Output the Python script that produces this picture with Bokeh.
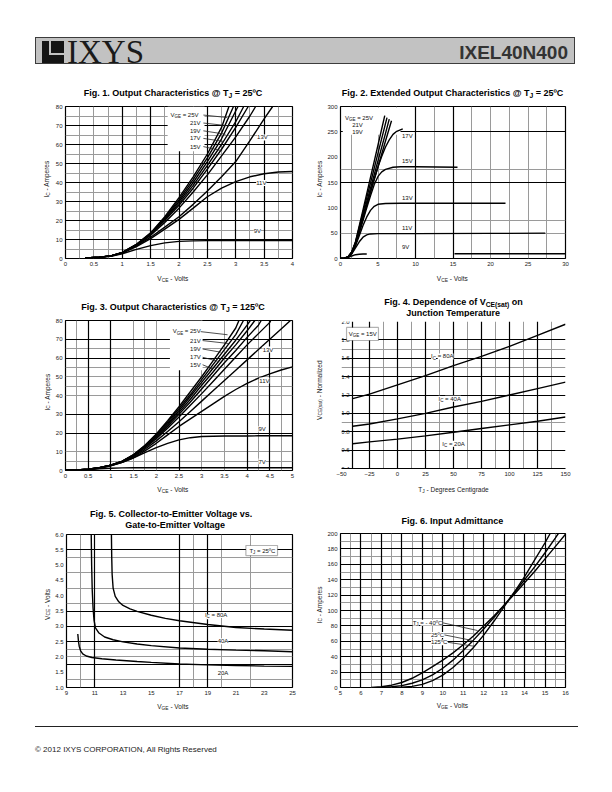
import math
from bokeh.plotting import figure
from bokeh.models import (Range1d, Label, Grid, FixedTicker, NumeralTickFormatter,
                          BoxAnnotation, Div)
from bokeh.layouts import column, row
from bokeh.embed import file_html
from bokeh.resources import INLINE

# ======================= DATA =======================
# ---- Fig. 1  Output characteristics @ TJ = 25C  (VCE [V], IC [A]) ----
f1_25v_x = [0.35, 0.6, 0.8, 1.0, 1.25, 1.5, 1.75, 2.0, 2.25, 2.5, 2.75, 2.88]
f1_25v_y = [0.3, 0.7, 1.4, 3.2, 7.5, 13.5, 22.0, 32.0, 43.0, 55.0, 69.0, 80.0]
f1_23v_x = [0.35, 0.6, 0.8, 1.0, 1.25, 1.5, 1.75, 2.0, 2.25, 2.5, 2.75, 2.96]
f1_23v_y = [0.3, 0.7, 1.4, 3.2, 7.4, 13.2, 21.5, 31.0, 41.5, 53.0, 66.0, 80.0]
f1_21v_x = [0.35, 0.6, 0.8, 1.0, 1.25, 1.5, 1.75, 2.0, 2.25, 2.5, 2.75, 3.04]
f1_21v_y = [0.3, 0.7, 1.4, 3.1, 7.3, 13.0, 21.0, 30.0, 40.0, 51.0, 63.0, 80.0]
f1_19v_x = [0.35, 0.6, 0.8, 1.0, 1.25, 1.5, 1.75, 2.0, 2.25, 2.5, 2.75, 3.0, 3.14]
f1_19v_y = [0.3, 0.7, 1.4, 3.1, 7.2, 12.8, 20.5, 29.0, 38.5, 49.0, 60.0, 72.0, 80.0]
f1_17v_x = [0.35, 0.6, 0.8, 1.0, 1.25, 1.5, 1.75, 2.0, 2.25, 2.5, 2.75, 3.0, 3.22]
f1_17v_y = [0.3, 0.7, 1.4, 3.0, 7.1, 12.5, 20.0, 28.0, 37.0, 47.0, 57.5, 69.0, 80.0]
f1_15v_x = [0.35, 0.6, 0.8, 1.0, 1.25, 1.5, 1.75, 2.0, 2.25, 2.5, 2.75, 3.0, 3.25, 3.35]
f1_15v_y = [0.3, 0.7, 1.4, 3.0, 7.0, 12.2, 19.0, 26.5, 35.0, 44.0, 54.0, 64.0, 75.0, 80.0]
f1_13v_x = [0.35, 0.6, 0.8, 1.0, 1.25, 1.5, 1.75, 2.0, 2.25, 2.5, 2.75, 3.0, 3.25, 3.5, 3.65]
f1_13v_y = [0.3, 0.7, 1.3, 2.9, 6.6, 11.2, 16.5, 22.0, 28.5, 35.5, 43.0, 51.0, 62.0, 73.5, 80.0]
f1_11v_x = [0.35, 0.6, 0.8, 1.0, 1.25, 1.5, 1.75, 2.0, 2.25, 2.5, 2.75, 3.0, 3.25, 3.5, 3.75, 4.0]
f1_11v_y = [0.3, 0.7, 1.3, 2.8, 6.3, 10.5, 15.5, 20.6, 26.5, 32.5, 37.0, 40.5, 43.0, 44.6, 45.5, 45.8]
f1_9v_x = [0.35, 0.6, 0.8, 1.0, 1.25, 1.5, 1.75, 2.0, 2.25, 2.5, 3.0, 3.5, 4.0]
f1_9v_y = [0.3, 0.6, 1.1, 2.5, 4.8, 6.8, 8.2, 9.0, 9.3, 9.4, 9.4, 9.4, 9.4]
f1_xticks = [0, 0.5, 1, 1.5, 2, 2.5, 3, 3.5, 4]
f1_yticks = [0, 10, 20, 30, 40, 50, 60, 70, 80]
f1_grid_x_major = [1, 1.5, 2, 2.5, 3, 3.5]
f1_grid_x_minor = [0.25, 0.5, 0.75, 1.25, 1.75, 2.25, 2.75, 3.25, 3.75]
f1_grid_y_major = [10, 20, 30, 40, 50, 60, 70]
f1_grid_y_minor = [5, 15, 25, 35, 45, 55, 65, 75]
f1_stack_labels = ["21V", "19V", "17V", "15V"]
f1_stack_y = [71.3, 67.2, 63.2, 58.9]
f1_vge_label_y = 75.5
f1_leader_x1 = [2.85, 2.88, 2.82, 2.79, 2.76]
f1_leader_y1 = [74.2, 69.8, 65.4, 61.6, 56.7]
f1_side_labels = ["13V", "11V", "9V"]
f1_side_x = [3.47, 3.45, 3.38]
f1_side_y = [63.7, 39.8, 14.6]

# ---- Fig. 2  Extended output characteristics @ 25C ----
f2_25v_x = [0, 0.5, 1.0, 1.5, 2.0, 3.0, 4.0, 5.0, 5.9]
f2_25v_y = [0, 0.5, 3, 13, 33, 96, 160, 224, 282]
f2_23v_x = [0, 0.5, 1.0, 1.5, 2.0, 3.0, 4.0, 5.0, 6.2]
f2_23v_y = [0, 0.5, 3, 13, 32, 91, 149, 208, 278]
f2_21v_x = [0, 0.5, 1.0, 1.5, 2.0, 3.0, 4.0, 5.0, 6.0, 6.5]
f2_21v_y = [0, 0.5, 3, 12.5, 31, 85, 139, 193, 247, 275]
f2_19v_x = [0, 0.5, 1.0, 1.5, 2.0, 3.0, 4.0, 5.0, 6.0, 6.8]
f2_19v_y = [0, 0.5, 3, 12, 30, 80, 131, 181, 232, 272]
f2_17v_x = [0, 0.5, 1, 1.5, 2, 2.5, 3, 3.5, 4, 4.5, 5, 5.5, 6, 6.5, 7, 7.5, 8.3]
f2_17v_y = [0, 0.5, 2.5, 11, 28, 52, 79, 106, 132, 157, 181, 202, 220, 234, 245, 251, 256]
f2_15v_x = [0, 0.5, 1, 1.5, 2, 2.5, 3, 3.5, 4, 4.5, 5, 5.5, 6, 7, 8, 10, 15.6]
f2_15v_y = [0, 0.5, 2.5, 10.5, 27, 50, 75, 100, 124, 146, 162, 171, 176, 180, 181, 181, 180]
f2_13v_x = [0, 0.5, 1, 1.5, 2, 2.5, 3, 3.5, 4, 4.5, 5, 6, 8, 22]
f2_13v_y = [0, 0.5, 2.5, 10, 25, 45, 65, 82, 95, 103, 107, 108.5, 109, 109]
f2_11v_x = [0, 0.5, 1, 1.5, 2, 2.5, 3, 3.5, 4, 5, 10, 20, 27.3]
f2_11v_y = [0, 0.5, 2, 9, 21, 33, 42, 46.5, 48.5, 49, 49, 49.5, 50]
# the 9V trace is drawn in two visible pieces in the original (gap between them)
f2_9v_x = [0, 0.5, 1, 1.5, 2, 2.5, 3, 3.5, float("nan"), 15.2, 30]
f2_9v_y = [0, 0.5, 2, 5, 7.5, 8.5, 9, 9, float("nan"), 9.5, 9.5]
f2_xticks = [0, 5, 10, 15, 20, 25, 30]
f2_yticks = [0, 50, 100, 150, 200, 250, 300]
f2_grid_x_major = [10, 15]
f2_grid_x_minor = [1.5, 5, 7.5, 12.5, 17.5, 20, 22.5, 25, 27.5]
f2_grid_y_major = [150, 250]
f2_grid_y_minor = [50, 75, 175]
f2_right_labels = ["17V", "15V", "13V", "11V", "9V"]
f2_right_y = [242, 193, 120, 60, 22]
f2_left_labels = ["21V", "19V"]
f2_left_y = [263, 249]

# ---- Fig. 3  Output characteristics @ TJ = 125C ----
f3_x = [0, 0.25, 0.5, 0.75, 1.0, 1.25, 1.5, 1.75, 2.0, 2.25, 2.5, 2.75, 3.0, 3.25,
        3.5, 3.75, 4.0, 4.25, 4.5, 4.75, 5.0]
f3_25v_x = [0, 0.25, 0.5, 0.75, 1.0, 1.25, 1.5, 1.75, 2.0, 2.25, 2.5, 2.75, 3.0, 3.25, 3.5, 3.75, 3.82]
f3_25v_y = [0.2, 0.3, 0.7, 1.5, 2.9, 5.0, 8.5, 13.5, 19.5, 26.5, 34.0, 42.0, 50.0, 58.5, 67.0, 76.0, 80.0]
f3_23v_x = [0, 0.25, 0.5, 0.75, 1.0, 1.25, 1.5, 1.75, 2.0, 2.25, 2.5, 2.75, 3.0, 3.25, 3.5, 3.75, 3.92]
f3_23v_y = [0.2, 0.3, 0.7, 1.5, 2.9, 5.0, 8.4, 13.2, 19.0, 25.8, 33.0, 40.5, 48.5, 56.5, 64.5, 72.5, 80.0]
f3_21v_x = [0, 0.25, 0.5, 0.75, 1.0, 1.25, 1.5, 1.75, 2.0, 2.25, 2.5, 2.75, 3.0, 3.25, 3.5, 3.75, 4.0, 4.07]
f3_21v_y = [0.2, 0.3, 0.7, 1.5, 2.9, 4.9, 8.3, 13.0, 18.6, 25.0, 32.0, 39.5, 47.0, 54.5, 62.0, 69.5, 77.5, 80.0]
f3_19v_x = [0, 0.25, 0.5, 0.75, 1.0, 1.25, 1.5, 1.75, 2.0, 2.25, 2.5, 2.75, 3.0, 3.25, 3.5, 3.75, 4.0, 4.17]
f3_19v_y = [0.2, 0.3, 0.7, 1.5, 2.9, 4.9, 8.2, 12.7, 18.2, 24.4, 31.0, 38.0, 45.5, 52.5, 60.0, 67.0, 74.5, 80.0]
f3_17v_x = [0, 0.25, 0.5, 0.75, 1.0, 1.25, 1.5, 1.75, 2.0, 2.25, 2.5, 2.75, 3.0, 3.25, 3.5, 3.75, 4.0, 4.25, 4.31]
f3_17v_y = [0.2, 0.3, 0.7, 1.5, 2.8, 4.8, 8.0, 12.4, 17.7, 23.6, 30.0, 36.5, 43.5, 50.5, 57.5, 64.0, 71.0, 77.5, 80.0]
f3_15v_x = [0, 0.25, 0.5, 0.75, 1.0, 1.25, 1.5, 1.75, 2.0, 2.25, 2.5, 2.75, 3.0, 3.25, 3.5, 3.75, 4.0, 4.25, 4.5, 4.52]
f3_15v_y = [0.2, 0.3, 0.7, 1.5, 2.8, 4.7, 7.8, 12.0, 17.0, 22.6, 28.5, 34.8, 41.0, 47.5, 54.0, 60.5, 67.0, 73.0, 79.0, 80.0]
f3_13v_y = [0.2, 0.3, 0.7, 1.4, 2.7, 4.5, 7.4, 11.3, 15.8, 20.8, 26.0, 31.5, 37.0, 42.5,
            48.0, 53.5, 59.0, 64.5, 70.0, 75.5, 81.0]
f3_11v_y = [0.2, 0.3, 0.6, 1.3, 2.6, 4.3, 6.8, 10.5, 14.5, 19.0, 23.5, 27.5, 31.5, 35.5,
            39.5, 43.2, 46.5, 49.3, 51.5, 53.6, 55.3]
f3_9v_y = [0.2, 0.3, 0.5, 1.2, 2.5, 4.3, 6.8, 9.5, 12.2, 14.5, 16.3, 17.5, 18.1, 18.3,
           18.4, 18.4, 18.4, 18.5, 18.5, 18.5, 18.5]
f3_7v_y = [0.2, 0.3, 0.5, 0.9, 1.2, 1.4, 1.5, 1.5, 1.5, 1.5, 1.5, 1.5, 1.5, 1.5,
           1.5, 1.5, 1.5, 1.5, 1.5, 1.5, 1.5]
f3_xticks = [0, 0.5, 1, 1.5, 2, 2.5, 3, 3.5, 4, 4.5, 5]
f3_yticks = [0, 10, 20, 30, 40, 50, 60, 70, 80]
f3_grid_x_major = [0.5, 1, 2.5, 4, 4.5]
f3_grid_x_minor = [0.25, 1.5, 1.75, 2, 3, 3.5, 4.25, 4.75]
f3_grid_y_major = [20, 30, 60, 70]
f3_grid_y_minor = [5, 10, 40, 45, 50, 55, 65]
f3_stack_labels = ["21V", "19V", "17V", "15V"]
f3_stack_y = [69.3, 64.8, 60.4, 56.4]
f3_vge_label_y = 74.2
f3_leader_x1 = [3.57, 3.6, 3.42, 3.35, 3.24]
f3_leader_y1 = [72.4, 67.7, 63.1, 58.3, 54.2]
f3_side_labels = ["13V", "11V", "9V", "7V"]
f3_side_x = [4.46, 4.38, 4.33, 4.33]
f3_side_y = [64.5, 48.0, 22.1, 4.8]

# ---- Fig. 4  VCE(sat) vs junction temperature ----
f4_tj = [-40, -25, 0, 25, 50, 75, 100, 125, 150]
f4_80a = [1.16, 1.21, 1.31, 1.41, 1.52, 1.62, 1.73, 1.85, 1.97]
f4_40a = [0.86, 0.885, 0.94, 1.00, 1.07, 1.13, 1.20, 1.27, 1.34]
f4_20a = [0.67, 0.69, 0.72, 0.755, 0.795, 0.835, 0.875, 0.915, 0.96]
f4_xticks = [-50, -25, 0, 25, 50, 75, 100, 125, 150]
f4_yticks = [0.4, 0.6, 0.8, 1.0, 1.2, 1.4, 1.6, 1.8, 2.0]
f4_grid_x_major = [-25, 0, 25, 50, 75, 100, 125, 150]
f4_grid_x_minor = [-12.5, 12.5, 37.5, 62.5, 87.5, 112.5, 137.5]
f4_grid_y_major = [0.6, 0.8, 1.0, 1.2, 1.4, 1.6, 1.8, 2.0]
f4_grid_y_minor = [0.9, 1.5, 1.7]
f4_label_names = ["80A", "40A", "20A"]
f4_label_x = [30, 36.6, 40]
f4_label_y = [1.62, 1.16, 0.67]

# ---- Fig. 5  VCE vs VGE ----
f5_80a_x = [12.18, 12.2, 12.23, 12.3, 12.45, 12.7, 13.0, 13.5, 14.0, 15.0, 16.0, 17.0, 19.0, 21.0, 23.0, 25.0]
f5_80a_y = [6.0, 5.3, 4.7, 4.25, 3.98, 3.8, 3.68, 3.57, 3.49, 3.36, 3.26, 3.18, 3.06, 2.96, 2.91, 2.87]
f5_40a_x = [10.75, 10.78, 10.82, 10.88, 10.95, 11.05, 11.3, 11.7, 12.3, 13.0, 14.0, 15.0, 17.0, 19.0, 21.0, 23.0, 25.0]
f5_40a_y = [6.0, 5.0, 4.2, 3.6, 3.2, 2.95, 2.78, 2.65, 2.56, 2.49, 2.42, 2.37, 2.29, 2.25, 2.22, 2.2, 2.17]
f5_20a_x = [9.8, 9.85, 9.9, 10.0, 10.15, 10.4, 10.8, 11.5, 12.5, 14.0, 15.0, 17.0, 19.0, 21.0, 23.0, 25.0]
f5_20a_y = [2.75, 2.5, 2.35, 2.2, 2.1, 2.03, 1.98, 1.94, 1.9, 1.85, 1.82, 1.77, 1.74, 1.72, 1.7, 1.69]
f5_xticks = [9, 11, 13, 15, 17, 19, 21, 23, 25]
f5_yticks = [1.0, 1.5, 2.0, 2.5, 3.0, 3.5, 4.0, 4.5, 5.0, 5.5, 6.0]
f5_grid_x_major = [11, 17, 19]
f5_grid_x_minor = [10, 18, 20, 22]
f5_grid_y_major = [1.75, 2.5, 3.0, 3.5, 5.5]
f5_grid_y_minor = [1.25, 2.0, 2.25, 3.75, 4.25, 4.75, 5.25]
f5_label_names = ["80A", "40A", "20A"]
f5_label_x = [18.8, 19.7, 19.7]
f5_label_y = [3.37, 2.51, 1.49]

# ---- Fig. 6  Input admittance ----
f6_m40_x = [6.5, 7, 7.5, 8, 8.5, 9, 9.5, 10, 10.5, 11, 11.5, 12, 12.5, 13, 13.5, 14, 14.5, 15, 15.5, 16]
f6_m40_y = [0, 1, 3, 6.5, 12, 19, 27, 35.5, 45, 55.5, 67, 80, 93, 107, 121, 136, 151, 167, 183, 199]
f6_25_x = [7, 7.5, 8, 8.5, 9, 9.5, 10, 10.5, 11, 11.5, 12, 12.5, 13, 13.5, 14, 14.5, 15, 15.5, 15.65]
f6_25_y = [0, 1, 2.5, 5.5, 10, 16.5, 25, 35.5, 48, 61.5, 76, 91, 107, 123, 140, 157, 175, 194, 200]
f6_125_x = [7.5, 8, 8.5, 9, 9.5, 10, 10.5, 11, 11.5, 12, 12.5, 13, 13.5, 14, 14.5, 15, 15.25]
f6_125_y = [0, 0.5, 1.5, 4, 9, 16, 26, 38, 52, 68, 86, 105, 124, 144, 166, 188, 200]
f6_xticks = [5, 6, 7, 8, 9, 10, 11, 12, 13, 14, 15, 16]
f6_yticks = [0, 20, 40, 60, 80, 100, 120, 140, 160, 180, 200]
f6_grid_x_major = [6, 7, 8, 9, 10, 11, 12, 13, 14, 15]
f6_grid_x_minor = [5.5, 6.5, 7.5, 8.5, 9.5, 10.5, 11.5, 12.5, 13.5, 14.5, 15.5]
f6_grid_y_major = [20, 40, 60, 80, 100, 120, 140, 160, 180]
f6_grid_y_minor = [10, 30, 50, 70, 90, 110, 130, 150, 170, 190]
f6_label_x0 = [10.0, 10.08, 10.25]
f6_label_y0 = [84, 68.3, 58.7]
f6_label_x1 = [11.7, 11.45, 11.55]
f6_label_y1 = [74, 61, 53.5]

# ======================= HELPERS =======================
FONT = "Liberation Sans"
REG = {' ': 278, '(': 333, ')': 333, ',': 278, '-': 333, '.': 278, '=': 584, '@': 1015,
       'º': 365, '©': 737,
       'A': 667, 'B': 667, 'C': 722, 'D': 722, 'E': 667, 'F': 611, 'G': 778, 'H': 722,
       'I': 278, 'J': 500, 'K': 667, 'L': 556, 'M': 833, 'N': 722, 'O': 778, 'P': 667,
       'Q': 778, 'R': 722, 'S': 667, 'T': 611, 'U': 722, 'V': 667, 'W': 944, 'X': 667,
       'Y': 667, 'Z': 611, 'a': 556, 'b': 556, 'c': 500, 'd': 556, 'e': 556, 'f': 278,
       'g': 556, 'h': 556, 'i': 222, 'j': 222, 'k': 500, 'l': 222, 'm': 833, 'n': 556,
       'o': 556, 'p': 556, 'q': 556, 'r': 333, 's': 500, 't': 278, 'u': 556, 'v': 500,
       'w': 722, 'x': 500, 'y': 500, 'z': 500}
BOLD = {' ': 278, '(': 333, ')': 333, ',': 278, '-': 333, '.': 278, '=': 584, '@': 975,
        'º': 365,
        'A': 722, 'B': 722, 'C': 722, 'D': 722, 'E': 667, 'F': 611, 'G': 778, 'H': 722,
        'I': 278, 'J': 556, 'K': 722, 'L': 611, 'M': 833, 'N': 722, 'O': 778, 'P': 667,
        'Q': 778, 'R': 722, 'S': 667, 'T': 611, 'U': 722, 'V': 667, 'W': 944, 'X': 667,
        'Y': 667, 'Z': 611, 'a': 556, 'b': 611, 'c': 556, 'd': 611, 'e': 556, 'f': 333,
        'g': 611, 'h': 611, 'i': 278, 'j': 278, 'k': 556, 'l': 278, 'm': 889, 'n': 611,
        'o': 611, 'p': 611, 'q': 611, 'r': 389, 's': 556, 't': 333, 'u': 611, 'v': 556,
        'w': 778, 'x': 556, 'y': 556, 'z': 500}


def tw(s, size, bold=False):
    tbl = BOLD if bold else REG
    return sum(tbl.get(c, 556) for c in s) * size / 1000.0


def rich(p, x, y, parts, size, align="left", bold=False, angle=0.0, xo=0.0, yo=0.0,
         bg=None, color="#111111", sub_scale=0.75):
    sizes = [size * sub_scale if s else size for _, s in parts]
    widths = [tw(t, fs, bold) for (t, _), fs in zip(parts, sizes)]
    total = sum(widths)
    pos = {"left": 0.0, "center": -total / 2.0, "right": -total}[align]
    for (t, s), fs, w in zip(parts, sizes, widths):
        stripped = t.lstrip(" ")
        lead = tw(t[:len(t) - len(stripped)], fs, bold)
        drop = 0.3 * size if s else 0.0
        if angle == 0:
            ox, oy = xo + pos + lead, yo - drop
        else:
            ox, oy = xo + drop, yo + pos + lead
        lab = Label(x=x, y=y, text=stripped, x_offset=ox, y_offset=oy, angle=angle,
                    text_font=FONT, text_font_size=f"{fs:.2f}px",
                    text_font_style="bold" if bold else "normal",
                    text_color=color, text_align="left", text_baseline="middle")
        if bg:
            lab.background_fill_color = bg
        p.add_layout(lab)
        pos += w


def simple(p, x, y, text, size=6.0, align="left", bg="white"):
    lab = Label(x=x, y=y, text=text, text_font=FONT, text_font_size=f"{size}px",
                text_color="#111111", text_align=align, text_baseline="middle")
    if bg:
        lab.background_fill_color = bg
    p.add_layout(lab)


def blank(w, h):
    p = figure(width=w, height=h, x_range=Range1d(0, w), y_range=Range1d(0, h),
               output_backend="svg", toolbar_location=None, min_border=0,
               x_axis_type=None, y_axis_type=None,
               background_fill_color="white", border_fill_color="white")
    p.outline_line_color = None
    p.grid.visible = False
    return p


class Cell:
    """Geometry of one chart cell in page pixels (page origin at the top-left)."""
    def __init__(self, x0, y0, w, h, ylab_w, title_h, xlab_h, frame):
        self.x0, self.y0, self.w, self.h = x0, y0, w, h
        self.ylab_w, self.title_h, self.xlab_h = ylab_w, title_h, xlab_h
        fx0, fx1, fy0, fy1 = frame
        self.cw = w - ylab_w
        self.ch = h - title_h - xlab_h
        self.bl = fx0 - (x0 + ylab_w)
        self.br = (x0 + w) - fx1
        self.bt = fy0 - (y0 + title_h)
        self.bb = (y0 + h - xlab_h) - fy1


def make_fig(c, xr, yr, xticks, yticks, xfmt=None, yfmt=None):
    p = figure(width=c.cw, height=c.ch, x_range=Range1d(*xr), y_range=Range1d(*yr),
               output_backend="svg", toolbar_location=None,
               min_border_left=c.bl, min_border_right=c.br,
               min_border_top=c.bt, min_border_bottom=c.bb,
               background_fill_color="white", border_fill_color="white")
    p.xgrid.visible = False
    p.ygrid.visible = False
    p.outline_line_color = "black"
    p.outline_line_width = 1.2
    for ax, ticks, fmt in ((p.xaxis[0], xticks, xfmt), (p.yaxis[0], yticks, yfmt)):
        ax.ticker = FixedTicker(ticks=ticks, minor_ticks=[])
        ax.minor_tick_line_color = None
        ax.major_tick_in = 0
        ax.major_tick_out = 0
        ax.axis_line_color = None
        ax.major_label_text_font = FONT
        ax.major_label_text_font_size = "6px"
        ax.major_label_text_color = "#222222"
        ax.major_label_standoff = 3
        if fmt is not None:
            ax.formatter = fmt
    return p


def grids(p, xmin, xmaj, ymin, ymaj):
    for dim, ticks, col, wd in ((0, xmin, "#9a9a9a", 1.0), (1, ymin, "#9a9a9a", 1.0),
                                (0, xmaj, "#000000", 1.2), (1, ymaj, "#000000", 1.2)):
        p.add_layout(Grid(dimension=dim, ticker=FixedTicker(ticks=ticks, minor_ticks=[]),
                          grid_line_color=col, grid_line_width=wd))


def mask(p, l, r, b, t):
    p.add_layout(BoxAnnotation(left=l, right=r, bottom=b, top=t, fill_color="white",
                               fill_alpha=1.0, line_color=None, level="underlay"))


def curve(p, x, y):
    p.line(x, y, line_color="black", line_width=1.4)


def assemble(c, chart, title_lines, xlab_parts, xlab_pos, ylab_parts, ylab_pos):
    """Text panels around a chart; the positions given are page coordinates."""
    tf = blank(c.w, c.title_h)
    for parts, (px, py) in title_lines:
        rich(tf, px - c.x0, c.title_h - (py - c.y0), parts, 9.0,
             align="center", bold=True, color="#000000")
    xf = blank(c.w, c.xlab_h)
    oy = c.y0 + c.h - c.xlab_h
    rich(xf, xlab_pos[0] - c.x0, c.xlab_h - (xlab_pos[1] - oy), xlab_parts, 6.5,
         align="center", color="#1a1a1a")
    yf = blank(c.ylab_w, c.ch)
    my = c.y0 + c.title_h
    rich(yf, ylab_pos[0] - c.x0, c.ch - (ylab_pos[1] - my), ylab_parts, 6.5,
         align="center", angle=math.pi / 2, color="#1a1a1a")
    return column(tf, row(yf, chart), xf)


VCE = [("V", 0), ("CE", 1), (" - Volts", 0)]
VGE = [("V", 0), ("GE", 1), (" - Volts", 0)]
ICA = [("I", 0), ("C", 1), (" - Amperes", 0)]

# ======================= FIG 1 =======================
c1 = Cell(0, 80, 308, 208, 52, 20, 16, (65, 292, 106, 258))
p1 = make_fig(c1, (0, 4), (0, 80), f1_xticks, f1_yticks, xfmt=NumeralTickFormatter(format="0.[0]"))
grids(p1, f1_grid_x_minor, f1_grid_x_major, f1_grid_y_minor, f1_grid_y_major)
mask(p1, 1.80, 2.45, 56.5, 80)
for xs, ys in ((f1_25v_x, f1_25v_y), (f1_23v_x, f1_23v_y), (f1_21v_x, f1_21v_y),
               (f1_19v_x, f1_19v_y), (f1_17v_x, f1_17v_y), (f1_15v_x, f1_15v_y),
               (f1_13v_x, f1_13v_y), (f1_11v_x, f1_11v_y), (f1_9v_x, f1_9v_y)):
    curve(p1, xs, ys)
p1.segment([2.43] * 5, [f1_vge_label_y] + f1_stack_y, f1_leader_x1, f1_leader_y1,
           line_color="#222222", line_width=0.8)
rich(p1, 1.85, f1_vge_label_y, [("V", 0), ("GE", 1), (" = 25V", 0)], 6.0, bg="white")
for t, yy in zip(f1_stack_labels, f1_stack_y):
    simple(p1, 2.38, yy, t, align="right")
for t, xx, yy in zip(f1_side_labels, f1_side_x, f1_side_y):
    simple(p1, xx, yy, t, align="center")
cell1 = assemble(c1, p1, [([("Fig. 1. Output Characteristics @ T", 0), ("J", 1), (" = 25ºC", 0)], (172.5, 92))],
                 VCE, (172.5, 278), ICA, (46, 182))

# ======================= FIG 2 =======================
c2 = Cell(308, 80, 296, 208, 16, 20, 16, (339, 565, 106, 258))
p2 = make_fig(c2, (0, 30), (0, 300), f2_xticks, f2_yticks)
grids(p2, f2_grid_x_minor, f2_grid_x_major, f2_grid_y_minor, f2_grid_y_major)
mask(p2, 0.3, 8.0, 244, 298)
for xs, ys in ((f2_25v_x, f2_25v_y), (f2_23v_x, f2_23v_y), (f2_21v_x, f2_21v_y),
               (f2_19v_x, f2_19v_y), (f2_17v_x, f2_17v_y), (f2_15v_x, f2_15v_y),
               (f2_13v_x, f2_13v_y), (f2_11v_x, f2_11v_y), (f2_9v_x, f2_9v_y)):
    curve(p2, xs, ys)
rich(p2, 0.6, 277, [("V", 0), ("GE", 1), (" = 25V", 0)], 6.0, bg="white")
for t, yy in zip(f2_left_labels, f2_left_y):
    simple(p2, 1.55, yy, t, align="left", bg=None)
for t, yy in zip(f2_right_labels, f2_right_y):
    simple(p2, 8.2, yy, t, align="left")
cell2 = assemble(c2, p2, [([("Fig. 2. Extended Output Characteristics @ T", 0), ("J", 1), (" = 25ºC", 0)], (452, 92))],
                 VCE, (452, 278), ICA, (318.5, 182))

# ======================= FIG 3 =======================
c3 = Cell(0, 288, 308, 212, 52, 26, 16, (64, 292, 320, 470))
p3 = make_fig(c3, (0, 5), (0, 80), f3_xticks, f3_yticks, xfmt=NumeralTickFormatter(format="0.[0]"))
grids(p3, f3_grid_x_minor, f3_grid_x_major, f3_grid_y_minor, f3_grid_y_major)
mask(p3, 2.3, 3.02, 53.5, 80)
for xs, ys in ((f3_25v_x, f3_25v_y), (f3_23v_x, f3_23v_y), (f3_21v_x, f3_21v_y),
               (f3_19v_x, f3_19v_y), (f3_17v_x, f3_17v_y), (f3_15v_x, f3_15v_y),
               (f3_x, f3_13v_y), (f3_x, f3_11v_y), (f3_x, f3_9v_y), (f3_x, f3_7v_y)):
    curve(p3, xs, ys)
p3.segment([2.93] + [3.02] * 4, [f3_vge_label_y] + f3_stack_y, f3_leader_x1, f3_leader_y1,
           line_color="#222222", line_width=0.8)
rich(p3, 2.36, f3_vge_label_y, [("V", 0), ("GE", 1), (" = 25V", 0)], 6.0, bg="white")
for t, yy in zip(f3_stack_labels, f3_stack_y):
    simple(p3, 2.98, yy, t, align="right")
for t, xx, yy in zip(f3_side_labels, f3_side_x, f3_side_y):
    simple(p3, xx, yy, t, align="center")
cell3 = assemble(c3, p3, [([("Fig. 3. Output Characteristics @ T", 0), ("J", 1), (" = 125ºC", 0)], (172.5, 306))],
                 VCE, (172.5, 489), ICA, (46.5, 395))

# ======================= FIG 4 =======================
c4 = Cell(308, 288, 296, 212, 16, 29, 16, (341, 565, 321, 468))
p4 = make_fig(c4, (-50, 150), (0.4, 2.0), f4_xticks, f4_yticks, yfmt=NumeralTickFormatter(format="0.0"))
p4.outline_line_color = None
p4.yaxis[0].fixed_location = -40
p4.yaxis[0].axis_line_color = "black"
p4.yaxis[0].axis_line_width = 1.2
p4.xaxis[0].axis_line_color = "black"
p4.xaxis[0].axis_line_width = 1.2
grids(p4, f4_grid_x_minor, f4_grid_x_major, f4_grid_y_minor, f4_grid_y_major)
for ys in (f4_80a, f4_40a, f4_20a):
    curve(p4, f4_tj, ys)
for nm, xx, yy in zip(f4_label_names, f4_label_x, f4_label_y):
    rich(p4, xx, yy, [("I", 0), ("C", 1), (" = " + nm, 0)], 6.0, bg="white")
p4.add_layout(BoxAnnotation(left=-45.5, right=-17, bottom=1.793, top=1.935, fill_color="white",
                            fill_alpha=1.0, line_color="black", line_width=1.2))
rich(p4, -43.5, 1.864, [("V", 0), ("GE", 1), (" = 15V", 0)], 6.0)
cell4 = assemble(c4, p4, [([("Fig. 4. Dependence of V", 0), ("CE(sat)", 1), (" on", 0)], (453, 301.5)),
                          ([("Junction Temperature", 0)], (453, 312))],
                 [("T", 0), ("J", 1), (" - Degrees Centigrade", 0)], (453, 489),
                 [("V", 0), ("CE(sat)", 1), (" - Normalized", 0)], (318.5, 395))

# ======================= FIG 5 =======================
c5 = Cell(0, 500, 308, 217, 52, 30, 16, (65, 292, 534, 687))
p5 = make_fig(c5, (9, 25), (1.0, 6.0), f5_xticks, f5_yticks, yfmt=NumeralTickFormatter(format="0.0"))
grids(p5, f5_grid_x_minor, f5_grid_x_major, f5_grid_y_minor, f5_grid_y_major)
for xs, ys in ((f5_80a_x, f5_80a_y), (f5_40a_x, f5_40a_y), (f5_20a_x, f5_20a_y)):
    curve(p5, xs, ys)
rich(p5, f5_label_x[0], f5_label_y[0], [("I", 0), ("C", 1), (" = " + f5_label_names[0], 0)], 6.0, bg="white")
simple(p5, f5_label_x[1], f5_label_y[1], f5_label_names[1])
simple(p5, f5_label_x[2], f5_label_y[2], f5_label_names[2])
p5.add_layout(BoxAnnotation(left=21.7, right=23.94, bottom=5.31, top=5.64, fill_color="white",
                            fill_alpha=1.0, line_color="black", line_width=1.2))
rich(p5, 21.95, 5.475, [("T", 0), ("J", 1), (" = 25ºC", 0)], 6.0)
cell5 = assemble(c5, p5, [([("Fig. 5. Collector-to-Emitter Voltage vs.", 0)], (171, 513.5)),
                          ([("Gate-to-Emitter Voltage", 0)], (175, 524.5))],
                 VGE, (172.5, 706), [("V", 0), ("CE", 1), (" - Volts", 0)], (46.5, 608))

# ======================= FIG 6 =======================
c6 = Cell(308, 500, 296, 217, 16, 28, 16, (339, 565, 533, 687))
p6 = make_fig(c6, (5, 16), (0, 200), f6_xticks, f6_yticks)
grids(p6, f6_grid_x_minor, f6_grid_x_major, f6_grid_y_minor, f6_grid_y_major)
for xs, ys in ((f6_m40_x, f6_m40_y), (f6_25_x, f6_25_y), (f6_125_x, f6_125_y)):
    curve(p6, xs, ys)
p6.segment(f6_label_x0, f6_label_y0, f6_label_x1, f6_label_y1, line_color="#222222", line_width=0.8)
rich(p6, 8.53, f6_label_y0[0], [("T", 0), ("J", 1), (" = - 40ºC", 0)], 6.0, bg="white")
simple(p6, 9.42, f6_label_y0[1], "25ºC")
simple(p6, 9.42, f6_label_y0[2], "125ºC")
cell6 = assemble(c6, p6, [([("Fig. 6. Input Admittance", 0)], (452, 520.5))],
                 VGE, (452, 705), ICA, (318.5, 608))

# ======================= PAGE =======================
header_html = """<div style="position:relative;width:604px;height:80px;margin:0;padding:0;">
 <div style="position:absolute;left:35px;top:37px;width:540px;height:27px;background:#c2c2c2;border:1.5px solid #3c3c3c;">
  <div style="position:absolute;left:6px;top:3px;width:22px;height:22px;background:#141414;">
   <div style="position:absolute;left:7px;top:0px;width:2px;height:13px;background:#c2c2c2;"></div>
   <div style="position:absolute;left:7px;top:12px;width:15px;height:2px;background:#c2c2c2;"></div>
  </div>
  <div style="position:absolute;left:31px;top:-2px;font-family:'Liberation Serif',serif;font-size:33px;line-height:33px;color:#1a1a1a;white-space:nowrap;">IXYS</div>
  <div style="position:absolute;right:6px;top:5px;font-family:'Liberation Sans',Arial,sans-serif;font-weight:bold;font-size:19px;line-height:19px;color:#333333;white-space:nowrap;">IXEL40N400</div>
 </div>
</div>"""

footer_html = """<div style="position:relative;width:604px;height:50px;margin:0;padding:0;">
 <div style="position:absolute;left:35px;top:9px;width:543px;height:0px;border-top:1px solid #222222;"></div>
 <div style="position:absolute;left:35px;top:28px;font-family:'Liberation Sans',Arial,sans-serif;font-size:8px;line-height:10px;color:#222222;white-space:nowrap;">© 2012 IXYS CORPORATION, All Rights Reserved</div>
</div>"""

header = Div(text=header_html, width=604, height=80, margin=0)
footer = Div(text=footer_html, width=604, height=50, margin=0)

page = column(header, row(cell1, cell2), row(cell3, cell4), row(cell5, cell6), footer)

with open("out.html", "w") as f:
    f.write(file_html(page, INLINE, title="IXEL40N400"))
